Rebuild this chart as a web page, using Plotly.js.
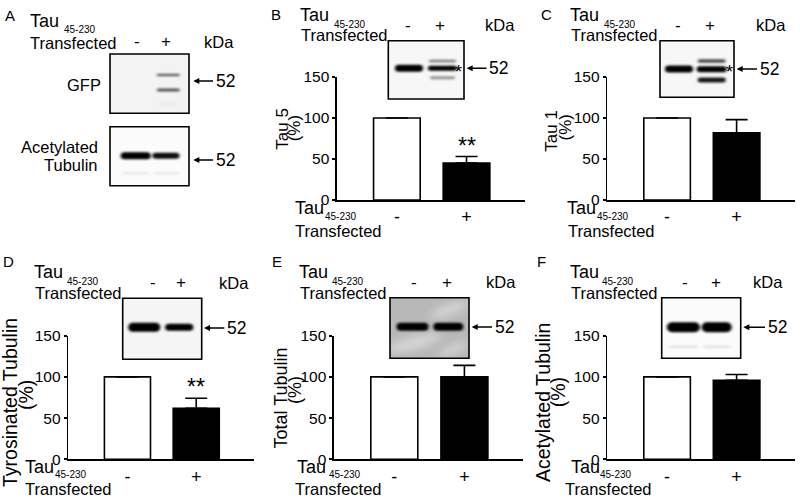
<!DOCTYPE html>
<html><head><meta charset="utf-8">
<script src="https://cdn.plot.ly/plotly-3.0.1.min.js"></script>
<style>html,body{margin:0;padding:0;background:#fff}#chart{width:800px;height:498px}</style>
</head><body><div id="chart"></div>
<script>
// ---------- data ----------
const categories = ['-', '+'];
const tau5Mean = [100, 45];   const tau5Sem = [0, 8];   const tau5Sig = ['', '**'];
const tau1Mean = [100, 82];   const tau1Sem = [0, 16];  const tau1Sig = ['', ''];
const tyrTubMean = [100, 62]; const tyrTubSem = [0, 12]; const tyrTubSig = ['', '**'];
const totTubMean = [100, 100]; const totTubSem = [0, 14]; const totTubSig = ['', ''];
const acTubMean = [100, 96];  const acTubSem = [0, 7];  const acTubSig = ['', ''];
const yTickVals = [0, 50, 100, 150];
const groupLabel = 'Tau';
const groupSub = '45-230';
const groupLine2 = 'Transfected';
const markerKDa = '52';

// ---------- geometry helpers ----------
const W = 800, H = 498;
const px = x => x / W;
const py = y => 1 - y / H;
const FONT = 'Liberation Sans, Arial, sans-serif';

const panels = [
  {letter:'B', mean:tau5Mean, sem:tau5Sem, sig:tau5Sig, title:['Tau 5','(%)'], tsize:17,
   xd:[337,525], yd:[77,200], t1:[281.7,129], t2:[295.3,128],
   below:{tau:293, sub:323, tr:293, cy:208}},
  {letter:'C', mean:tau1Mean, sem:tau1Sem, sig:tau1Sig, title:['Tau 1','(%)'], tsize:17,
   xd:[607.3,795], yd:[77,200], t1:[551.7,131], t2:[565.5,128],
   below:{tau:565, sub:595, tr:566, cy:208}},
  {letter:'D', mean:tyrTubMean, sem:tyrTubSem, sig:tyrTubSig, title:['Tyrosinated Tubulin','(%)'], tsize:19.5,
   xd:[68.3,254], yd:[335.7,459.3], t1:[10,403], t2:[26,395],
   below:{tau:22.7, sub:53.3, tr:22.7, cy:466.7}},
  {letter:'E', mean:totTubMean, sem:totTubSem, sig:totTubSig, title:['Total Tubulin','(%)'], tsize:18,
   xd:[334,523.3], yd:[335.7,459.3], t1:[280.5,398], t2:[295,390],
   below:{tau:295, sub:326.7, tr:293.3, cy:466.7}},
  {letter:'F', mean:acTubMean, sem:acTubSem, sig:acTubSig, title:['Acetylated Tubulin','(%)'], tsize:19.5,
   xd:[607.3,795], yd:[335.7,459.3], t1:[543,403], t2:[558.3,392],
   below:{tau:569, sub:598, tr:563.3, cy:466.7}}
];

const traces = [];
const layout = {
  width: W, height: H, margin:{l:0,r:0,t:0,b:0},
  paper_bgcolor:'#fff', plot_bgcolor:'rgba(0,0,0,0)',
  font:{family:FONT, color:'#000', size:16},
  showlegend:false, annotations:[], shapes:[], images:[]
};
const ann = layout.annotations;
function txt(x, y, s, size, opts) {
  ann.push(Object.assign({xref:'paper', yref:'paper', x:px(x), y:py(y), text:s, showarrow:false,
    font:{size:size, family:FONT, color:'#000'}, xanchor:'center', yanchor:'middle'}, opts||{}));
}

panels.forEach((p, i) => {
  const k = i === 0 ? '' : String(i + 1);
  traces.push({
    type:'bar', x:categories, y:p.mean, width:0.67,
    xaxis:'x'+k, yaxis:'y'+k, hoverinfo:'skip',
    marker:{color:['#ffffff','#000000'], line:{color:'#000', width:1.6}},
    error_y:{type:'data', array:p.sem, arrayminus:[0,0], symmetric:false, color:'#000', thickness:1.6, width:11}
  });
  layout['xaxis'+k] = {domain:[px(p.xd[0]), px(p.xd[1])], type:'category', range:[-0.86,1.84],
    showline:true, linecolor:'#000', linewidth:1.6, ticks:'', showgrid:false, zeroline:false,
    tickfont:{size:18, family:FONT}, anchor:'y'+k, fixedrange:true};
  layout['yaxis'+k] = {domain:[py(p.yd[1]), py(p.yd[0])], range:[0,150], tickvals:yTickVals,
    showline:true, linecolor:'#000', linewidth:1.6, ticks:'outside', ticklen:3, tickwidth:1.6, tickcolor:'#000',
    showgrid:false, zeroline:false, tickfont:{size:15.5, family:FONT}, anchor:'x'+k, fixedrange:true};
  // y titles (two lines, rotated)
  txt(p.t1[0], p.t1[1], p.title[0], p.tsize, {textangle:-90});
  txt(p.t2[0], p.t2[1], p.title[1], p.tsize, {textangle:-90});
  // significance
  p.sig.forEach((s, j) => {
    if (s) ann.push({xref:'x'+k, yref:'y'+k, x:categories[j], y:p.mean[j] + p.sem[j] - 5, text:s,
      showarrow:false, yanchor:'bottom', font:{size:23, family:FONT, color:'#000'}});
  });
  // label below axis
  const b = p.below;
  txt(b.tau, b.cy, groupLabel, 18, {xanchor:'left'});
  txt(b.sub, b.cy + 8, groupSub, 10, {xanchor:'left'});
  txt(b.tr, b.cy + 22.5, groupLine2, 16.5, {xanchor:'left'});
});

// ---------- headers above blots ----------
const headers = [
  {L:'A', l:[9.5,16], tau:[28.3,21], sub:[61.7,30], tr:[28.3,42.7], mi:[136.7,42], pl:[165.7,42], kda:[218.7,42]},
  {L:'B', l:[276,14], tau:[297.7,14.5], sub:[331.7,25], tr:[299,35], mi:[408.3,26], pl:[440,26], kda:[500,25]},
  {L:'C', l:[546,14], tau:[568.3,14.5], sub:[602.3,25], tr:[569,35], mi:[678.3,26], pl:[710,26], kda:[771,25]},
  {L:'D', l:[8,261], tau:[31.7,271.7], sub:[65,281], tr:[33.3,292.7], mi:[153.3,282.7], pl:[181,282.7], kda:[234,282.7]},
  {L:'E', l:[277,261], tau:[296.7,271.7], sub:[330,281], tr:[298,292.7], mi:[414,282], pl:[446.7,282], kda:[501,282]},
  {L:'F', l:[541.7,261], tau:[568,271.7], sub:[600,281], tr:[569,292.7], mi:[685,282], pl:[716,282], kda:[767.5,282]}
];
headers.forEach(h => {
  txt(h.l[0], h.l[1], h.L, 15);
  txt(h.tau[0], h.tau[1], groupLabel, 18, {xanchor:'left'});
  txt(h.sub[0], h.sub[1], groupSub, 10, {xanchor:'left'});
  txt(h.tr[0], h.tr[1], groupLine2, 16.5, {xanchor:'left'});
  txt(h.mi[0], h.mi[1], categories[0], 17);
  txt(h.pl[0], h.pl[1], categories[1], 17);
  txt(h.kda[0], h.kda[1], 'kDa', 16.5);
});
txt(84, 85, 'GFP', 16.5);
txt(100, 146.7, 'Acetylated', 16.5, {xanchor:'right'});
txt(100, 165, 'Tubulin', 16.5, {xanchor:'right'});

// ---------- blots (images) ----------
function blotSvg(w, h, bg, bands, streaks) {
  let s = `<svg xmlns="http://www.w3.org/2000/svg" width="${w}" height="${h}" viewBox="0 0 ${w} ${h}">` +
    `<defs><filter id="b" x="-30%" y="-100%" width="160%" height="300%"><feGaussianBlur stdDeviation="1.4 1.1"/></filter>` +
    `<filter id="s"><feGaussianBlur stdDeviation="4"/></filter></defs>` +
    `<rect width="${w}" height="${h}" fill="${bg}"/>`;
  if (streaks) s += `<g filter="url(#s)" fill="#e4e4e4" fill-opacity="0.7">` +
    `<ellipse cx="${w*0.3}" cy="${h*0.75}" rx="${w*0.35}" ry="6" transform="rotate(-15 ${w*0.3} ${h*0.75})"/>` +
    `<ellipse cx="${w*0.75}" cy="${h*0.2}" rx="${w*0.25}" ry="5" transform="rotate(-20 ${w*0.75} ${h*0.2})"/>` +
    `<ellipse cx="${w*0.8}" cy="${h*0.85}" rx="${w*0.2}" ry="4" transform="rotate(-25 ${w*0.8} ${h*0.85})"/></g>`;
  s += '<g filter="url(#b)">';
  bands.forEach(b => {
    s += `<rect x="${b[0]-b[2]/2}" y="${b[1]-b[3]/2}" width="${b[2]}" height="${b[3]}" rx="${b[3]/2}" fill="#000" fill-opacity="${b[4]}"/>`;
  });
  s += '</g></svg>';
  return 'data:image/svg+xml;charset=utf-8,' + encodeURIComponent(s);
}
// box [x0,y0,x1,y1] in px; bands [cx, cy, w, h, opacity] in blot-local px
const blots = [
  {box:[110,54,189,113.3], bg:'#f3f3f3', bands:[[58.3,21,23,2.6,0.6],[58.3,36,23,3.2,0.65],[58.3,50,20,1.5,0.06]]},
  {box:[110,126.7,189,185.7], bg:'#fbfbfb', bands:[[25.7,29,30,7,1],[56,29,27,6,0.95],[25.7,46.6,26,2,0.1],[56,46.6,24,2,0.1]]},
  {box:[388.3,40.7,464,99], bg:'#f7f7f7', bands:[[20.7,27.6,28,7,1],[54.2,27.6,29,5,1],[54.2,20.3,27,2.6,0.5],[54.2,37,25,3,0.4]]},
  {box:[660,40.7,734,97.3], bg:'#f7f7f7', bands:[[19,28.3,28,7,1],[51.7,28.6,30,6,1],[51.7,20.3,28,3.5,0.7],[51.7,39.3,28,5,0.9]]},
  {box:[122.7,298.3,201.7,359.3], bg:'#f5f5f5', bands:[[21.5,29,32,9,1],[56.5,29,28,7,1]]},
  {box:[390,297.7,469,358.3], bg:'#b8b8b8', streaks:true, bands:[[22.5,29,32,8,1],[58.3,29,30,8,1]]},
  {box:[661.7,297.7,740.7,358.3], bg:'#fbfbfb', bands:[[21.7,29.6,33,10,1],[55,29.6,30,10,1],[21.7,49,28,2,0.12],[55,49,26,2,0.12]]}
];
blots.forEach(b => {
  const [x0,y0,x1,y1] = b.box;
  layout.images.push({source: blotSvg(x1-x0, y1-y0, b.bg, b.bands, b.streaks), xref:'paper', yref:'paper',
    x:px(x0), y:py(y0), sizex:(x1-x0)/W, sizey:(y1-y0)/H, xanchor:'left', yanchor:'top', sizing:'stretch', layer:'above'});
  layout.shapes.push({type:'rect', xref:'paper', yref:'paper', x0:px(x0), x1:px(x1), y0:py(y1), y1:py(y0),
    line:{color:'#000', width:1.6}, fillcolor:'rgba(0,0,0,0)', layer:'above'});
});

// ---------- kDa arrows ----------
const arrows = [[193.3,81,225],[193.3,160,225],[466.7,68.3,498.5],[736.7,69,769],[204,328,236.3],[471.7,327,504],[743.3,327.3,777]];
arrows.forEach(a => {
  ann.push({xref:'paper', yref:'paper', x:px(a[0]), y:py(a[1]), ax:a[2]-a[0], ay:0, axref:'pixel', ayref:'pixel',
    text:markerKDa, showarrow:true, arrowhead:2, arrowsize:0.8, arrowwidth:1.5, arrowcolor:'#000', standoff:0,
    borderpad:2, font:{size:17.5, family:FONT, color:'#000'}});
});
txt(458.3, 72, '*', 18);
txt(729, 72, '*', 18);

Plotly.newPlot('chart', traces, layout, {staticPlot:true, displayModeBar:false});
</script></body></html>
